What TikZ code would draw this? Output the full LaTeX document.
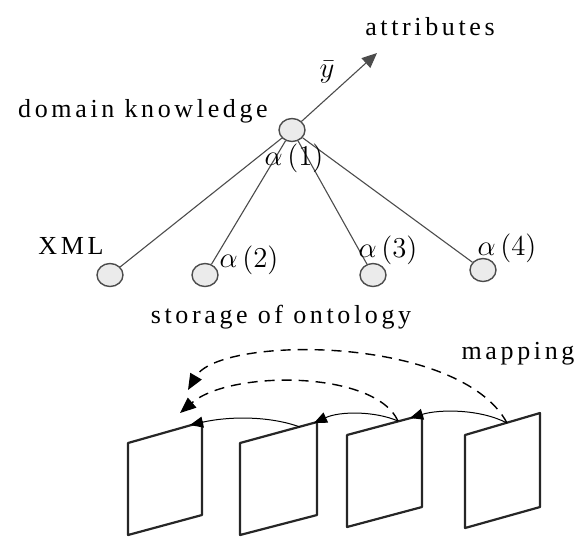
\documentclass[tikz,border=0pt]{standalone}
\usepackage{fontspec}
\newfontfamily\lblfont[LetterSpace=14]{Liberation Serif}
\usetikzlibrary{shapes.geometric, arrows.meta}

\begin{document}
\begin{tikzpicture}[x=0.5pt, y=-0.5pt, >={Triangle[length=6.5pt, width=5.5pt]}]

    \tikzset{
        vertex/.style={ellipse, draw=black!70, fill=black!8, line width=0.7pt,
            minimum width=13pt, minimum height=11.5pt, inner sep=0pt},
        branch/.style={draw=black!70, line width=0.55pt},
        txt/.style={font=\fontsize{13}{15}\selectfont\lblfont, inner sep=0pt},
        wt/.style={font=\fontsize{14}{16}\selectfont, inner sep=0pt},
        sheet/.style={draw=black!85, line width=1.1pt, line join=round},
        hop/.style={->, line width=0.5pt},
        remap/.style={-{Triangle[length=8pt, width=6.5pt]},
            dash pattern=on 5pt off 3.5pt, line width=0.7pt}
    }

    \useasboundingbox (0,0) rectangle (581,537);

    % Tree vertices
    \node[vertex] (dk)  at (292,130) {};
    \node[vertex] (xml) at (110,275) {};
    \node[vertex] (a2)  at (205,275) {};
    \node[vertex] (a3)  at (373,275) {};
    \node[vertex] (a4)  at (483,270) {};

    % Output direction
    \coordinate (attr) at (377,53);

    % Branches
    \draw[branch] (dk) -- (xml);
    \draw[branch] (dk) -- (a2);
    \draw[branch] (dk) -- (a3);
    \draw[branch] (dk) -- (a4);
    \draw[branch, -{Triangle[length=7.5pt, width=6.5pt]}] (dk) -- (attr);

    % Text labels
    \node[txt] (dklbl)   at (143,111) {domain knowledge};
    \node[txt] (attrlbl) at (430,27)  {attributes};
    \node[txt] (xmllbl)  at (71,246)  {XML};
    \node[txt] (storlbl) at (281,317) {storage of ontology};
    \node[txt] (maplbl)  at (518,354) {mapping};

    % Weights
    \node[wt] (ybar) at (327,72)  {$\bar{y}$};
    \node[wt] (w1)   at (294,158) {$\alpha\,(1)$};
    \node[wt] (w2)   at (249,260) {$\alpha\,(2)$};
    \node[wt] (w3)   at (388,250) {$\alpha\,(3)$};
    \node[wt] (w4)   at (507,248) {$\alpha\,(4)$};

    % Sheets
    \draw[sheet] (128,443) -- (202,422) -- (202,515) -- (128,535) -- cycle;
    \draw[sheet] (240,443) -- (317,422) -- (317,515) -- (240,535) -- cycle;
    \draw[sheet] (347,435) -- (422,415) -- (422,507) -- (347,527) -- cycle;
    \draw[sheet] (465,435) -- (540,413) -- (540,507) -- (465,528) -- cycle;

    % Arc end points on sheet tops
    \coordinate (s1end) at (190,425);
    \coordinate (s2beg) at (300,427);
    \coordinate (s2end) at (314,423);
    \coordinate (s3beg) at (398,421);
    \coordinate (s3end) at (410,418);
    \coordinate (s4beg) at (507,423);
    \coordinate (far1)  at (188,390);
    \coordinate (far2)  at (180,413);

    % Neighbour links
    \draw[hop] (s4beg) .. controls (480,409) and (440,409) .. (s3end);
    \draw[hop] (s3beg) .. controls (375,411) and (340,411) .. (s2end);
    \draw[hop] (s2beg) .. controls (270,416) and (230,416) .. (s1end);

    % Mappings
    \draw[remap] (s4beg) .. controls (460,335) and (220,335) .. (far1);
    \draw[remap] (s3beg) .. controls (375,370) and (230,370) .. (far2);

\end{tikzpicture}
\end{document}
